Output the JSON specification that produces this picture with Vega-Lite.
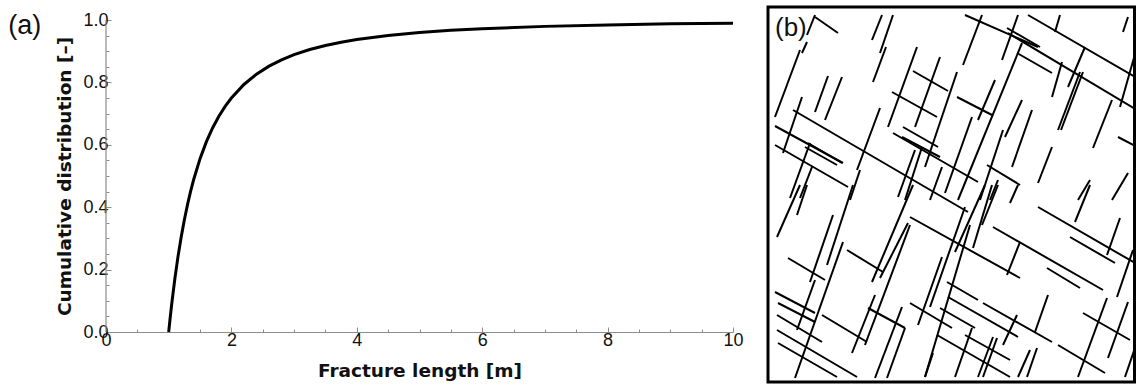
{
  "$schema": "https://vega.github.io/schema/vega-lite/v6.json",
  "padding": {"left": 8, "top": 5, "right": 1, "bottom": 0},
  "background": "white",
  "config": {"font": "Liberation Sans", "view": {"stroke": null}},
  "spacing": 22,
  "hconcat": [
    {
      "width": 627,
      "height": 325,
      "layer": [
        {
          "data": {"name": "cdf", "values": [
            {"length": 1.0, "cdf": 0.0}, {"length": 1.02, "cdf": 0.0388}, {"length": 1.05, "cdf": 0.093}, {"length": 1.1, "cdf": 0.1736},
            {"length": 1.15, "cdf": 0.2439}, {"length": 1.2, "cdf": 0.3056}, {"length": 1.25, "cdf": 0.36}, {"length": 1.3, "cdf": 0.4083},
            {"length": 1.35, "cdf": 0.4513}, {"length": 1.4, "cdf": 0.4898}, {"length": 1.5, "cdf": 0.5556}, {"length": 1.6, "cdf": 0.6094},
            {"length": 1.7, "cdf": 0.654}, {"length": 1.8, "cdf": 0.6914}, {"length": 1.9, "cdf": 0.723}, {"length": 2.0, "cdf": 0.75},
            {"length": 2.2, "cdf": 0.7934}, {"length": 2.4, "cdf": 0.8264}, {"length": 2.6, "cdf": 0.8521}, {"length": 2.8, "cdf": 0.8724},
            {"length": 3.0, "cdf": 0.8889}, {"length": 3.25, "cdf": 0.9053}, {"length": 3.5, "cdf": 0.9184}, {"length": 3.75, "cdf": 0.9289},
            {"length": 4.0, "cdf": 0.9375}, {"length": 4.5, "cdf": 0.9506}, {"length": 5.0, "cdf": 0.96}, {"length": 5.5, "cdf": 0.9669},
            {"length": 6.0, "cdf": 0.9722}, {"length": 7.0, "cdf": 0.9796}, {"length": 8.0, "cdf": 0.9844}, {"length": 9.0, "cdf": 0.9877},
            {"length": 10.0, "cdf": 0.99}
          ]},
          "mark": {"type": "line", "color": "black", "strokeWidth": 3},
          "encoding": {
            "x": {"field": "length", "type": "quantitative", "scale": {"domain": [0, 10], "nice": false},
              "axis": {"orient": "bottom", "values": [0, 2, 4, 6, 8, 10], "tickSize": -5, "tickColor": "#8c8c8c", "domainColor": "#8c8c8c", "domainWidth": 1.2,
                "labelFontSize": 18, "labelColor": "#111", "labelPadding": 4, "labelFlush": false, "grid": false,
                "title": "Fracture length [m]", "titleFont": "DejaVu Sans", "titleFontSize": 18.5, "titleFontWeight": "bold", "titleColor": "#111", "titlePadding": 12}},
            "y": {"field": "cdf", "type": "quantitative", "scale": {"domain": [0, 1.0417], "nice": false},
              "axis": {"orient": "left", "values": [0, 0.2, 0.4, 0.6, 0.8, 1.0], "format": ".1f", "tickSize": -5, "tickColor": "#8c8c8c", "domain": false,
                "labelFontSize": 18, "labelColor": "#111", "labelPadding": 3, "labelFlush": false, "grid": false,
                "title": "Cumulative distribution [–]", "titleFont": "DejaVu Sans", "titleFontSize": 18.5, "titleFontWeight": "bold", "titleColor": "#111", "titlePadding": 8, "titleY": 169}}
          }
        },
        {
          "data": {"name": "cdf"},
          "mark": {"type": "point", "opacity": 0},
          "encoding": {
            "x": {"field": "length", "type": "quantitative", "scale": {"domain": [0, 10], "nice": false},
              "axis": {"orient": "bottom", "values": [0.5, 1, 1.5, 2.5, 3, 3.5, 4.5, 5, 5.5, 6.5, 7, 7.5, 8.5, 9, 9.5], "tickSize": -3, "tickColor": "#8c8c8c", "domain": false, "labels": false, "grid": false, "title": null}},
            "y": {"field": "cdf", "type": "quantitative", "scale": {"domain": [0, 1.0417], "nice": false},
              "axis": {"orient": "left", "values": [0.05, 0.1, 0.15, 0.25, 0.3, 0.35, 0.45, 0.5, 0.55, 0.65, 0.7, 0.75, 0.85, 0.9, 0.95], "tickSize": -3, "tickColor": "#8c8c8c", "domain": false, "labels": false, "grid": false, "title": null}}
          }
        },
        {
          "data": {"values": [{"x": 0, "y": 0, "y2": 1}]},
          "mark": {"type": "rule", "color": "#8c8c8c", "strokeWidth": 1.2},
          "encoding": {
            "x": {"field": "x", "type": "quantitative", "scale": {"domain": [0, 10], "nice": false}, "axis": null},
            "y": {"field": "y", "type": "quantitative", "scale": {"domain": [0, 1.0417], "nice": false}, "axis": null},
            "y2": {"field": "y2"}
          }
        },
        {
          "data": {"values": [{"label": "(a)", "x": -1.56, "y": 0.98}]},
          "mark": {"type": "text", "fontSize": 27, "align": "left", "baseline": "middle", "color": "#111", "clip": false},
          "encoding": {
            "x": {"field": "x", "type": "quantitative", "scale": {"domain": [0, 10], "nice": false}, "axis": null},
            "y": {"field": "y", "type": "quantitative", "scale": {"domain": [0, 1.0417], "nice": false}, "axis": null},
            "text": {"field": "label"}
          }
        }
      ],
      "resolve": {"axis": {"x": "independent", "y": "independent"}}
    },
    {
      "width": 366.5,
      "height": 375,
      "view": {"stroke": "black", "strokeWidth": 3},
      "layer": [
        {
          "data": {"values": [
            {"x1": 37, "y1": 347, "x2": 45, "y2": 367}, {"x1": 32, "y1": 329, "x2": 37, "y2": 340}, {"x1": 45, "y1": 365, "x2": 68, "y2": 349},
            {"x1": 5, "y1": 265, "x2": 30, "y2": 332}, {"x1": 13, "y1": 229, "x2": 32, "y2": 285}, {"x1": 55, "y1": 262, "x2": 72, "y2": 305},
            {"x1": 45, "y1": 270, "x2": 58, "y2": 306}, {"x1": 5, "y1": 256, "x2": 73, "y2": 219}, {"x1": 5, "y1": 237, "x2": 78, "y2": 195},
            {"x1": 35, "y1": 235, "x2": 67, "y2": 217}, {"x1": 38, "y1": 239, "x2": 72, "y2": 219}, {"x1": 20, "y1": 184, "x2": 40, "y2": 239},
            {"x1": 30, "y1": 184, "x2": 42, "y2": 215}, {"x1": 80, "y1": 182, "x2": 90, "y2": 212}, {"x1": 87, "y1": 212, "x2": 110, "y2": 274},
            {"x1": 102, "y1": 342, "x2": 112, "y2": 367}, {"x1": 110, "y1": 329, "x2": 123, "y2": 367}, {"x1": 103, "y1": 300, "x2": 116, "y2": 335},
            {"x1": 118, "y1": 255, "x2": 147, "y2": 335}, {"x1": 122, "y1": 290, "x2": 167, "y2": 265}, {"x1": 143, "y1": 311, "x2": 178, "y2": 291},
            {"x1": 123, "y1": 249, "x2": 208, "y2": 200}, {"x1": 133, "y1": 255, "x2": 168, "y2": 235}, {"x1": 132, "y1": 245, "x2": 170, "y2": 225},
            {"x1": 193, "y1": 317, "x2": 212, "y2": 367}, {"x1": 195, "y1": 367, "x2": 268, "y2": 335}, {"x1": 237, "y1": 354, "x2": 270, "y2": 335},
            {"x1": 247, "y1": 329, "x2": 282, "y2": 309}, {"x1": 258, "y1": 367, "x2": 367, "y2": 304}, {"x1": 238, "y1": 349, "x2": 367, "y2": 272},
            {"x1": 232, "y1": 322, "x2": 248, "y2": 367}, {"x1": 188, "y1": 182, "x2": 252, "y2": 339}, {"x1": 282, "y1": 285, "x2": 292, "y2": 320},
            {"x1": 298, "y1": 295, "x2": 315, "y2": 335}, {"x1": 288, "y1": 252, "x2": 310, "y2": 310}, {"x1": 291, "y1": 252, "x2": 313, "y2": 310},
            {"x1": 323, "y1": 234, "x2": 342, "y2": 282}, {"x1": 350, "y1": 275, "x2": 367, "y2": 335}, {"x1": 353, "y1": 350, "x2": 358, "y2": 365},
            {"x1": 187, "y1": 285, "x2": 222, "y2": 267}, {"x1": 208, "y1": 262, "x2": 225, "y2": 302}, {"x1": 235, "y1": 245, "x2": 252, "y2": 282},
            {"x1": 242, "y1": 215, "x2": 262, "y2": 272}, {"x1": 268, "y1": 199, "x2": 282, "y2": 235}, {"x1": 217, "y1": 217, "x2": 250, "y2": 197},
            {"x1": 348, "y1": 245, "x2": 367, "y2": 235}, {"x1": 342, "y1": 182, "x2": 358, "y2": 209}, {"x1": 308, "y1": 182, "x2": 320, "y2": 202},
            {"x1": 220, "y1": 182, "x2": 228, "y2": 202}, {"x1": 155, "y1": 215, "x2": 187, "y2": 310}, {"x1": 145, "y1": 255, "x2": 170, "y2": 325},
            {"x1": 175, "y1": 189, "x2": 202, "y2": 265}, {"x1": 128, "y1": 185, "x2": 145, "y2": 232}, {"x1": 135, "y1": 182, "x2": 152, "y2": 235},
            {"x1": 160, "y1": 182, "x2": 172, "y2": 215}, {"x1": 285, "y1": 350, "x2": 290, "y2": 367}, {"x1": 210, "y1": 182, "x2": 233, "y2": 252},
            {"x1": 23, "y1": 272, "x2": 198, "y2": 170},
            {"x1": 7, "y1": 145, "x2": 30, "y2": 197}, {"x1": 27, "y1": 167, "x2": 37, "y2": 197}, {"x1": 25, "y1": 4, "x2": 73, "y2": 140},
            {"x1": 40, "y1": 100, "x2": 63, "y2": 167}, {"x1": 27, "y1": 52, "x2": 45, "y2": 102}, {"x1": 82, "y1": 29, "x2": 105, "y2": 87},
            {"x1": 95, "y1": 37, "x2": 140, "y2": 157}, {"x1": 57, "y1": 117, "x2": 83, "y2": 197}, {"x1": 18, "y1": 124, "x2": 55, "y2": 102},
            {"x1": 77, "y1": 132, "x2": 113, "y2": 110}, {"x1": 5, "y1": 90, "x2": 45, "y2": 69}, {"x1": 8, "y1": 79, "x2": 45, "y2": 60},
            {"x1": 7, "y1": 67, "x2": 52, "y2": 40}, {"x1": 7, "y1": 52, "x2": 87, "y2": 5}, {"x1": 8, "y1": 39, "x2": 67, "y2": 5},
            {"x1": 52, "y1": 67, "x2": 97, "y2": 40}, {"x1": 98, "y1": 74, "x2": 135, "y2": 54}, {"x1": 105, "y1": 4, "x2": 132, "y2": 75},
            {"x1": 117, "y1": 4, "x2": 135, "y2": 54}, {"x1": 102, "y1": 100, "x2": 143, "y2": 197}, {"x1": 110, "y1": 104, "x2": 138, "y2": 159},
            {"x1": 140, "y1": 165, "x2": 250, "y2": 104}, {"x1": 148, "y1": 57, "x2": 172, "y2": 125}, {"x1": 155, "y1": 5, "x2": 200, "y2": 157},
            {"x1": 140, "y1": 79, "x2": 182, "y2": 54}, {"x1": 177, "y1": 100, "x2": 208, "y2": 82}, {"x1": 178, "y1": 85, "x2": 248, "y2": 45},
            {"x1": 170, "y1": 74, "x2": 205, "y2": 54}, {"x1": 167, "y1": 47, "x2": 240, "y2": 5}, {"x1": 195, "y1": 47, "x2": 240, "y2": 22},
            {"x1": 213, "y1": 79, "x2": 282, "y2": 40}, {"x1": 208, "y1": 5, "x2": 223, "y2": 45}, {"x1": 213, "y1": 5, "x2": 227, "y2": 44},
            {"x1": 185, "y1": 5, "x2": 202, "y2": 54}, {"x1": 233, "y1": 37, "x2": 247, "y2": 67}, {"x1": 257, "y1": 5, "x2": 267, "y2": 34},
            {"x1": 248, "y1": 5, "x2": 260, "y2": 32}, {"x1": 265, "y1": 50, "x2": 278, "y2": 87}, {"x1": 237, "y1": 107, "x2": 250, "y2": 140},
            {"x1": 223, "y1": 155, "x2": 333, "y2": 92}, {"x1": 277, "y1": 114, "x2": 310, "y2": 94}, {"x1": 268, "y1": 175, "x2": 365, "y2": 119},
            {"x1": 300, "y1": 145, "x2": 345, "y2": 119}, {"x1": 305, "y1": 160, "x2": 320, "y2": 197}, {"x1": 337, "y1": 127, "x2": 350, "y2": 164},
            {"x1": 347, "y1": 85, "x2": 363, "y2": 132}, {"x1": 313, "y1": 69, "x2": 360, "y2": 42}, {"x1": 308, "y1": 5, "x2": 337, "y2": 84},
            {"x1": 338, "y1": 24, "x2": 358, "y2": 80}, {"x1": 288, "y1": 37, "x2": 335, "y2": 9}, {"x1": 155, "y1": 5, "x2": 163, "y2": 29},
            {"x1": 240, "y1": 179, "x2": 248, "y2": 197}, {"x1": 212, "y1": 157, "x2": 228, "y2": 197}, {"x1": 203, "y1": 134, "x2": 222, "y2": 197},
            {"x1": 355, "y1": 5, "x2": 367, "y2": 40}, {"x1": 160, "y1": 75, "x2": 195, "y2": 175}, {"x1": 185, "y1": 130, "x2": 215, "y2": 197}
          ]},
          "mark": {"type": "rule", "color": "black", "strokeWidth": 2, "clip": true},
          "encoding": {
            "x": {"field": "x1", "type": "quantitative", "scale": {"domain": [-2, 364.5], "nice": false, "zero": false}, "axis": null},
            "y": {"field": "y1", "type": "quantitative", "scale": {"domain": [0, 375], "nice": false, "zero": false}, "axis": null},
            "x2": {"field": "x2"},
            "y2": {"field": "y2"}
          }
        },
        {
          "data": {"values": [{"label": "(b)", "x": 5, "y": 354}]},
          "mark": {"type": "text", "fontSize": 26, "align": "left", "baseline": "middle", "color": "#111"},
          "encoding": {
            "x": {"field": "x", "type": "quantitative"},
            "y": {"field": "y", "type": "quantitative"},
            "text": {"field": "label"}
          }
        }
      ]
    }
  ]
}
